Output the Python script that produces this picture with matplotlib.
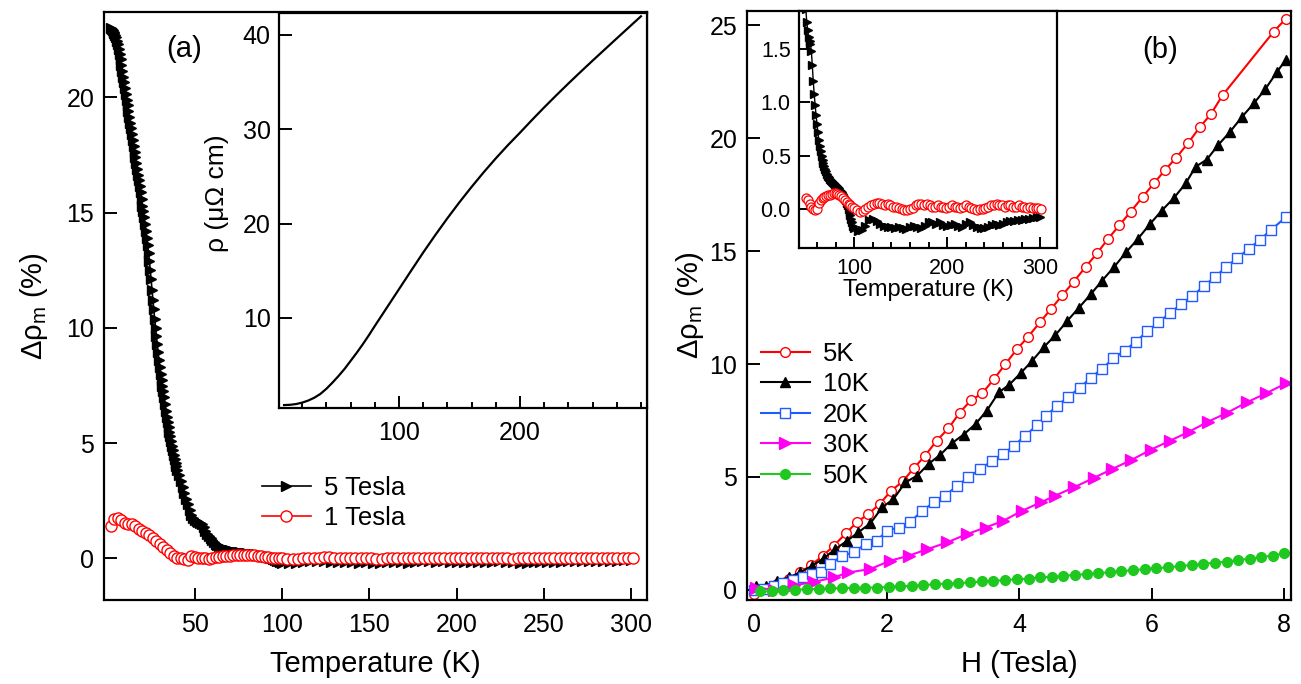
import matplotlib
matplotlib.use('Agg')
import matplotlib.pyplot as plt
from matplotlib.ticker import FixedLocator, MultipleLocator, FormatStrFormatter

plt.rcParams['font.family'] = ['Liberation Sans', 'DejaVu Sans']
plt.rcParams['mathtext.fontset'] = 'custom'
plt.rcParams['mathtext.rm'] = 'Liberation Sans'
plt.rcParams['mathtext.it'] = 'Liberation Sans'

# ---------------- data: panel (a) ----------------
T_5tesla = [2, 2.5, 3, 3.5, 4, 4.5, 5, 5.5, 6, 6.5, 7, 7.5, 8, 8.5, 9, 9.5, 10, 10.5, 11, 11.5,
            12, 12.5, 13, 13.5, 14, 14.5, 15, 15.5, 16, 16.5, 17, 17.5, 18, 18.5, 19, 19.5,
            20, 20.5, 21, 21.5, 22, 22.5, 23, 23.5, 24, 24.5, 25, 25.5, 26, 26.5, 27, 27.5,
            28, 28.5, 29, 29.5, 30, 30.5, 31, 31.5, 32, 32.5, 33, 33.5, 34, 34.5, 35, 35.5,
            36, 36.5, 37, 37.5, 38, 38.5, 39, 39.5, 40,
            41, 42, 43, 44, 45, 46, 47, 48, 49, 50, 51, 52, 53, 54, 55, 56, 57, 58, 59, 60,
            61, 62, 63, 64, 65, 66, 67, 68, 69, 70, 71, 72, 73, 74, 75, 76, 77, 78, 79, 80,
            81, 82, 83, 84, 85, 86, 87, 88, 89, 90, 91, 92, 93, 94, 95, 96, 97, 98, 99, 100,
            104, 108, 112, 116, 120, 124, 128, 132, 136, 140, 144, 148, 152, 156, 160,
            164, 168, 172, 176, 180, 184, 188, 192, 196, 200, 204, 208, 212, 216, 220,
            224, 228, 232, 236, 240, 244, 248, 252, 256, 260, 264, 268, 272, 276, 280,
            284, 288, 292, 296, 300]
drho_5tesla = [23.0, 22.95, 22.9, 22.85, 22.8, 22.7, 22.6, 22.45, 22.3, 22.1, 21.9, 21.65,
               21.4, 21.15, 20.9, 20.65, 20.4, 20.15, 19.9, 19.65, 19.4, 19.15, 18.9, 18.65,
               18.4, 18.15, 17.9, 17.65, 17.4, 17.15, 16.9, 16.65, 16.4, 16.15, 15.9, 15.6,
               15.3, 15.05, 14.8, 14.5, 14.2, 13.9, 13.6, 13.25, 12.9, 12.5, 12.1, 11.65,
               11.2, 10.8, 10.4, 10.0, 9.65, 9.3, 8.95, 8.6, 8.3, 8.0, 7.75, 7.5, 7.25, 7.0,
               6.7, 6.4, 6.15, 5.9, 5.7, 5.5, 5.3, 5.1, 4.9, 4.7, 4.5, 4.3, 4.15, 4.0, 3.85,
               3.6, 3.35, 3.1, 2.85, 2.6, 2.35, 2.1, 1.88, 1.76, 1.68, 1.62, 1.58, 1.55,
               1.48, 1.35, 1.2, 1.08, 0.98, 0.88, 0.8, 0.72, 0.65, 0.59, 0.54, 0.5, 0.46,
               0.43, 0.4, 0.37, 0.35, 0.33, 0.31, 0.3, 0.28, 0.27, 0.26, 0.25, 0.24, 0.23,
               0.22, 0.21, 0.21, 0.2, 0.19, 0.18, 0.17, 0.16, 0.14, 0.12, 0.1, 0.08, 0.05,
               0.03, 0.0, -0.03, -0.06, -0.1, -0.13, -0.16, -0.18,
               -0.21, -0.2, -0.16, -0.11, -0.1, -0.12, -0.14, -0.16, -0.17, -0.17,
               -0.18, -0.17, -0.18, -0.19, -0.17, -0.16, -0.17, -0.18, -0.16, -0.13,
               -0.13, -0.14, -0.13, -0.15, -0.16, -0.15, -0.14, -0.16, -0.17, -0.14,
               -0.13, -0.15, -0.17, -0.18, -0.18, -0.17, -0.15, -0.14, -0.15, -0.14,
               -0.13, -0.12, -0.12, -0.11, -0.11, -0.1, -0.1, -0.09, -0.08, -0.08]

T_1tesla = [2, 4, 6, 8, 10, 12, 14, 16, 18, 20, 22, 24, 26, 28, 30, 32, 34, 36, 38, 40,
            42, 44, 46, 48, 50, 52, 54, 56, 58, 60, 62, 64, 66, 68, 70, 72, 74, 76, 78, 80,
            82, 84, 86, 88, 90, 92, 94, 96, 98, 100,
            103, 106, 109, 112, 115, 118, 121, 124, 127, 130, 133, 136, 139, 142, 145,
            148, 151, 154, 157, 160, 163, 166, 169, 172, 175, 178, 181, 184, 187, 190,
            193, 196, 199, 202, 205, 208, 211, 214, 217, 220, 223, 226, 229, 232, 235,
            238, 241, 244, 247, 250, 253, 256, 259, 262, 265, 268, 271, 274, 277, 280,
            283, 286, 289, 292, 295, 298, 301]
drho_1tesla = [1.4, 1.7, 1.75, 1.65, 1.55, 1.5, 1.48, 1.42, 1.3, 1.2,
               1.1, 1.0, 0.9, 0.78, 0.65, 0.52, 0.38, 0.24, 0.12, 0.04,
               0.0, -0.04, -0.06, 0.1, 0.08, 0.04, 0.02, 0.0, -0.01, 0.0,
               0.05, 0.08, 0.1, 0.11, 0.12, 0.13, 0.13, 0.14, 0.15, 0.15,
               0.14, 0.13, 0.12, 0.1, 0.08, 0.06, 0.04, 0.03, 0.02, 0.01,
               -0.01, -0.03, -0.02, 0.0, 0.02, 0.03, 0.04, 0.05, 0.05, 0.04,
               0.03, 0.04, 0.03, 0.02, 0.02, 0.01, 0.0, -0.01, -0.01, 0.0,
               0.01, 0.03, 0.04, 0.04, 0.03, 0.04, 0.03, 0.02, 0.02, 0.03,
               0.02, 0.02, 0.01, 0.02, 0.03, 0.02, 0.02, 0.01, 0.02, 0.03,
               0.02, 0.01, 0.0, -0.01, 0.0, 0.0, 0.01, 0.02, 0.03, 0.03,
               0.04, 0.03, 0.03, 0.02, 0.03, 0.03, 0.02, 0.02, 0.03, 0.02,
               0.02, 0.01, 0.02, 0.01, 0.01, 0.01, 0.0]

# inset (a): resistivity
T_rho = [5, 10, 15, 20, 25, 30, 35, 40, 45, 50, 55, 60, 65, 70, 75, 80, 90, 100, 110, 120,
         130, 140, 150, 160, 170, 180, 190, 200, 210, 220, 230, 240, 250, 260, 270, 280,
         290, 300]
rho = [0.77, 0.8, 0.88, 1.03, 1.25, 1.55, 1.95, 2.5, 3.15, 3.85, 4.6, 5.45, 6.3, 7.2, 8.15,
       9.15, 11.1, 13.05, 15.0, 16.93, 18.78, 20.56, 22.26, 23.88, 25.43, 26.9, 28.3, 29.62,
       30.98, 32.3, 33.58, 34.83, 36.05, 37.25, 38.43, 39.61, 40.78, 41.95]

# ---------------- data: panel (b) ----------------
H_5K = [0.0, 0.17, 0.34, 0.52, 0.69, 0.86, 1.03, 1.2, 1.38, 1.55, 1.72, 1.89, 2.07, 2.24,
        2.41, 2.58, 2.75, 2.93, 3.1, 3.27, 3.44, 3.62, 3.79, 3.96, 4.13, 4.31, 4.48, 4.65,
        4.82, 5.0, 5.17, 5.34, 5.51, 5.68, 5.86, 6.03, 6.2, 6.37, 6.55, 6.72, 6.89, 7.07,
        7.84, 8.02]
D_5K = [-0.2, 0.05, 0.25, 0.5, 0.77, 1.1, 1.5, 1.95, 2.5, 3.0, 3.35, 3.8, 4.4, 4.8, 5.4,
        5.95, 6.6, 7.15, 7.85, 8.4, 8.7, 9.35, 10.0, 10.65, 11.2, 11.85, 12.45, 13.05, 13.65,
        14.3, 14.9, 15.55, 16.15, 16.75, 17.4, 18.0, 18.6, 19.15, 19.8, 20.48, 21.07, 21.92,
        24.73, 25.29]

H_10K = [0.02, 0.17, 0.34, 0.52, 0.69, 0.87, 1.05, 1.22, 1.4, 1.57, 1.75, 1.93, 2.1, 2.28,
         2.46, 2.63, 2.81, 2.98, 3.16, 3.34, 3.51, 3.69, 3.85, 4.02, 4.19, 4.37, 4.54, 4.72,
         4.9, 5.08, 5.25, 5.43, 5.61, 5.79, 5.97, 6.15, 6.33, 6.51, 6.66, 6.83, 7.0, 7.18,
         7.36, 7.54, 7.71, 7.89, 8.02]
D_10K = [0.18, 0.18, 0.4, 0.55, 0.77, 1.06, 1.4, 1.8, 2.17, 2.55, 2.94, 3.65, 4.02, 4.76,
         5.06, 5.58, 5.99, 6.49, 6.88, 7.35, 7.94, 8.75, 9.09, 9.6, 10.13, 10.75, 11.27, 11.9,
         12.5, 13.1, 13.7, 14.3, 14.95, 15.55, 16.2, 16.8, 17.35, 18.0, 18.74, 19.06, 19.7,
         20.29, 20.95, 21.55, 22.17, 22.95, 23.47]

H_20K = [0.0, 0.15, 0.29, 0.44, 0.58, 0.73, 0.87, 1.0, 1.15, 1.32, 1.5, 1.68, 1.85, 2.0,
         2.18, 2.35, 2.53, 2.71, 2.88, 3.06, 3.23, 3.41, 3.59, 3.76, 3.92, 4.09, 4.26, 4.41,
         4.57, 4.74, 4.91, 5.08, 5.25, 5.42, 5.59, 5.76, 5.93, 6.1, 6.27, 6.44, 6.61, 6.78,
         6.95, 7.12, 7.29, 7.46, 7.63, 7.8, 8.02]
D_20K = [0.0, 0.05, 0.18, 0.32, 0.45, 0.55, 0.7, 0.81, 1.14, 1.51, 1.66, 2.03, 2.17, 2.62,
         2.76, 2.99, 3.5, 3.87, 4.17, 4.61, 4.98, 5.35, 5.72, 6.02, 6.39, 6.83, 7.28, 7.72,
         8.16, 8.55, 8.95, 9.4, 9.8, 10.25, 10.6, 11.0, 11.45, 11.85, 12.25, 12.65, 13.0,
         13.45, 13.85, 14.3, 14.7, 15.1, 15.5, 15.95, 16.5]

H_30K = [0.02, 0.3, 0.6, 0.9, 1.2, 1.42, 1.75, 2.05, 2.33, 2.61, 2.91, 3.21, 3.49, 3.76,
         4.04, 4.32, 4.54, 4.83, 5.12, 5.4, 5.69, 5.98, 6.27, 6.56, 6.85, 7.14, 7.43, 7.72,
         8.02]
D_30K = [0.1, 0.0, 0.2, 0.35, 0.55, 0.77, 0.92, 1.29, 1.51, 1.8, 2.1, 2.47, 2.76, 3.06, 3.5,
         3.87, 4.17, 4.55, 4.95, 5.35, 5.75, 6.2, 6.6, 7.0, 7.45, 7.85, 8.3, 8.7, 9.14]

H_50K = [0.09, 0.27, 0.44, 0.62, 0.8, 0.97, 1.15, 1.32, 1.5, 1.67, 1.85, 2.03, 2.2, 2.38,
         2.55, 2.73, 2.91, 3.08, 3.26, 3.43, 3.61, 3.78, 3.96, 4.14, 4.31, 4.49, 4.66, 4.84,
         5.02, 5.19, 5.37, 5.54, 5.72, 5.89, 6.07, 6.25, 6.42, 6.6, 6.77, 6.95, 7.13, 7.3,
         7.48, 7.65, 7.83, 8.0]
D_50K = [-0.07, -0.07, 0.0, 0.0, 0.03, 0.03, 0.06, 0.08, 0.08, 0.1, 0.1, 0.13, 0.15, 0.18,
         0.21, 0.25, 0.28, 0.3, 0.33, 0.37, 0.4, 0.43, 0.47, 0.5, 0.55, 0.58, 0.62, 0.66, 0.7,
         0.74, 0.78, 0.83, 0.87, 0.92, 0.96, 1.0, 1.05, 1.1, 1.15, 1.2, 1.25, 1.32, 1.38,
         1.45, 1.52, 1.62]

labels_a = ['5 Tesla', '1 Tesla']
labels_b = ['5K', '10K', '20K', '30K', '50K']

# ---------------- figure ----------------
W, Hh = 1301, 684
fig = plt.figure(figsize=(W / 100, Hh / 100), dpi=100)


def px(l, t, r, b):
    return [l / W, 1 - b / Hh, (r - l) / W, (b - t) / Hh]


def style(ax, size, length=8, pad=6):
    for s in ax.spines.values():
        s.set_linewidth(1.6)
    ax.tick_params(which='both', direction='in', top=False, right=False,
                   width=1.4, labelsize=size, pad=pad)
    ax.tick_params(which='major', length=length)
    ax.tick_params(which='minor', length=length / 2)


RED = '#ff0000'
BLUE = '#1f5bff'
MAG = '#ff00f0'
GREEN = '#1ec81e'

# ---- panel (a) ----
ax_a = fig.add_axes(px(104, 12, 647, 600))
ax_a.plot(T_5tesla, drho_5tesla, color='k', lw=1.2, marker='>', ms=7,
          mfc='k', mec='k', label=labels_a[0])
ax_a.plot(T_1tesla, drho_1tesla, color=RED, lw=1.2, marker='o', ms=8,
          mfc='white', mec=RED, mew=1.0, label=labels_a[1])
ax_a.set_xlim(-2, 309)
ax_a.set_ylim(-1.8, 23.7)
ax_a.xaxis.set_major_locator(FixedLocator([50, 100, 150, 200, 250, 300]))
ax_a.yaxis.set_major_locator(FixedLocator([0, 5, 10, 15, 20]))
style(ax_a, 18, length=9, pad=7)
ax_a.tick_params(axis='x', pad=9)
ax_a.set_xlabel('Temperature (K)', fontsize=21)
ax_a.set_ylabel('Δρ$_\\mathrm{m}$ (%)', fontsize=21)
ax_a.xaxis.set_label_coords(0.5, -0.085)
ax_a.yaxis.set_label_coords(-0.1, 0.5)
ax_a.legend(loc='upper left', bbox_to_anchor=(262 / W, 1 - 476 / Hh),
            bbox_transform=fig.transFigure, frameon=False, borderpad=0,
            borderaxespad=0, handlelength=1.9, handletextpad=0.5,
            labelspacing=0.25, fontsize=18.5, numpoints=1)
fig.text(184 / W, 1 - 49 / Hh, '(a)', fontsize=21, ha='center', va='center')

# ---- inset (a) ----
ins_a = fig.add_axes(px(279, 13, 647, 408))
ins_a.plot(T_rho, rho, color='k', lw=1.6)
ins_a.set_xlim(0.8, 305)
ins_a.set_ylim(0.46, 42.3)
ins_a.xaxis.set_major_locator(FixedLocator([100, 200]))
ins_a.xaxis.set_minor_locator(MultipleLocator(20))
ins_a.yaxis.set_major_locator(FixedLocator([10, 20, 30, 40]))
style(ins_a, 18, length=9, pad=6)
ins_a.tick_params(axis='x', pad=9)
ins_a.set_ylabel('ρ (μΩ cm)', fontsize=19)
ins_a.yaxis.set_label_coords(-0.135, 0.545)

# ---- panel (b) ----
ax_b = fig.add_axes(px(747, 11, 1291, 600))
ax_b.plot(H_5K, D_5K, color=RED, lw=1.5, marker='o', ms=7, mfc='white', mec=RED,
          mew=1.0, label=labels_b[0])
ax_b.plot(H_10K, D_10K, color='k', lw=1.5, marker='^', ms=7, mfc='k', mec='k',
          label=labels_b[1])
ax_b.plot(H_20K, D_20K, color=BLUE, lw=1.5, marker='s', ms=7, mfc='white', mec=BLUE,
          mew=1.0, label=labels_b[2])
ax_b.plot(H_30K, D_30K, color=MAG, lw=1.5, marker='>', ms=8, mfc=MAG, mec=MAG,
          label=labels_b[3])
ax_b.plot(H_50K, D_50K, color=GREEN, lw=1.5, marker='o', ms=7, mfc=GREEN, mec=GREEN,
          label=labels_b[4])
ax_b.set_xlim(-0.11, 8.1)
ax_b.set_ylim(-0.45, 25.64)
ax_b.xaxis.set_major_locator(FixedLocator([0, 2, 4, 6, 8]))
ax_b.yaxis.set_major_locator(FixedLocator([0, 5, 10, 15, 20, 25]))
style(ax_b, 18, length=9, pad=7)
ax_b.tick_params(axis='x', pad=9)
ax_b.set_xlabel('H (Tesla)', fontsize=21)
ax_b.set_ylabel('Δρ$_\\mathrm{m}$ (%)', fontsize=21)
ax_b.xaxis.set_label_coords(0.5, -0.085)
ax_b.yaxis.set_label_coords(-0.075, 0.5)
ax_b.legend(loc='upper left', bbox_to_anchor=(761 / W, 1 - 342 / Hh),
            bbox_transform=fig.transFigure, frameon=False, borderpad=0,
            borderaxespad=0, handlelength=1.9, handletextpad=0.5,
            labelspacing=0.25, fontsize=18.5, numpoints=1)
fig.text(1160 / W, 1 - 50 / Hh, '(b)', fontsize=21, ha='center', va='center')

# ---- inset (b) ----
ins_b = fig.add_axes(px(799, 11, 1057, 248))
mask5 = [t >= 48 for t in T_5tesla]
mask1 = [t >= 48 for t in T_1tesla]
ins_b.plot([t for t, m in zip(T_5tesla, mask5) if m],
           [d for d, m in zip(drho_5tesla, mask5) if m],
           color='k', lw=1.0, marker='>', ms=6, mfc='k', mec='k')
ins_b.plot([t for t, m in zip(T_1tesla, mask1) if m],
           [d for d, m in zip(drho_1tesla, mask1) if m],
           color=RED, lw=1.0, marker='o', ms=6.5, mfc='white', mec=RED, mew=0.9)
ins_b.set_xlim(40.7, 318)
ins_b.set_ylim(-0.37, 1.86)
ins_b.xaxis.set_major_locator(FixedLocator([100, 200, 300]))
ins_b.xaxis.set_minor_locator(MultipleLocator(20))
ins_b.yaxis.set_major_locator(FixedLocator([0.0, 0.5, 1.0, 1.5]))
ins_b.yaxis.set_major_formatter(FormatStrFormatter('%.1f'))
style(ins_b, 15.5, length=8, pad=6)
ins_b.tick_params(axis='x', pad=7)
ins_b.set_xlabel('Temperature (K)', fontsize=17)
ins_b.xaxis.set_label_coords(0.5, -0.13)

fig.savefig('out.png', dpi=100)
